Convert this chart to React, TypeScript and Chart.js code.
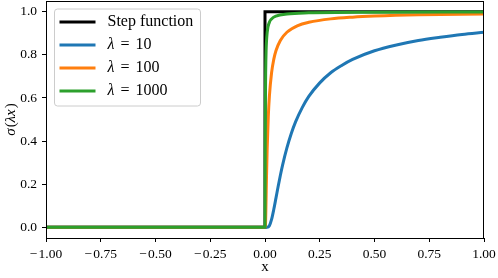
import React, { useEffect, useRef } from "react";
import { Chart, registerables } from "chart.js";

Chart.register(...registerables);

// ---- data ----
const X_TICKS = [-1, -0.75, -0.5, -0.25, 0, 0.25, 0.5, 0.75, 1];
const Y_TICKS = [0, 0.2, 0.4, 0.6, 0.8, 1.0];

const STEP_X = [-1, 0, 0, 1];
const STEP_Y = [0, 0, 1, 1];

const L10_X = [-1, 0, 0.01, 0.02, 0.03, 0.04, 0.05, 0.06, 0.07, 0.08, 0.1, 0.12, 0.14, 0.17, 0.2, 0.25, 0.3, 0.35, 0.4, 0.5, 0.6, 0.7, 0.8, 0.9, 1.0];
const L10_Y = [0, 0, 0.0, 0.007, 0.036, 0.082, 0.135, 0.189, 0.24, 0.287, 0.368, 0.435, 0.49, 0.555, 0.607, 0.67, 0.717, 0.751, 0.779, 0.819, 0.846, 0.867, 0.882, 0.895, 0.905];

const L100_X = [-1, 0, 0.002, 0.003, 0.004, 0.005, 0.007, 0.01, 0.015, 0.02, 0.03, 0.04, 0.05, 0.07, 0.1, 0.15, 0.2, 0.3, 0.4, 0.5, 0.7, 1.0];
const L100_Y = [0, 0, 0.007, 0.036, 0.082, 0.135, 0.24, 0.368, 0.513, 0.607, 0.717, 0.779, 0.819, 0.867, 0.905, 0.936, 0.951, 0.967, 0.975, 0.98, 0.986, 0.99];

const L1000_X = [-1, 0, 0.0005, 0.001, 0.002, 0.003, 0.005, 0.01, 0.02, 0.03, 0.05, 0.1, 0.2, 0.5, 1.0];
const L1000_Y = [0, 0, 0.135, 0.368, 0.607, 0.717, 0.819, 0.905, 0.951, 0.967, 0.98, 0.99, 0.995, 0.998, 0.999];

const LABELS = ["Step function", "λ = 10", "λ = 100", "λ = 1000"];
const LAMBDAS = ["10", "100", "1000"];
const COLORS = ["#000000", "#1f77b4", "#ff7f0e", "#2ca02c"];

const SERIF = "'Liberation Serif', 'Times New Roman', serif";

const pts = (xs: number[], ys: number[]) => xs.map((x, i) => ({ x, y: ys[i] }));
const fmt = (v: number, d: number) => (v < 0 ? "\u2212\u200A" : "") + Math.abs(v).toFixed(d);

type Piece = [string, boolean, number?];

// draws a run of [text, italic, extraGapAfter] pieces starting at x
function drawPieces(ctx: CanvasRenderingContext2D, pieces: Piece[], size: number, x: number, y: number) {
  let cx = x;
  for (const [t, it, g] of pieces) {
    ctx.font = `${it ? "italic " : ""}${size}px ${SERIF}`;
    ctx.fillText(t, cx, y);
    cx += ctx.measureText(t).width + (g || 0);
  }
}
function measurePieces(ctx: CanvasRenderingContext2D, pieces: Piece[], size: number) {
  let w = 0;
  for (const [t, it, g] of pieces) {
    ctx.font = `${it ? "italic " : ""}${size}px ${SERIF}`;
    w += ctx.measureText(t).width + (g || 0);
  }
  return w;
}

const decorPlugin = {
  id: "decor",
  afterDraw(chart: any) {
    const { ctx, chartArea } = chart;
    const { left, right, top, bottom } = chartArea;
    ctx.save();
    // frame
    ctx.strokeStyle = "#000";
    ctx.lineWidth = 1;
    ctx.strokeRect(Math.round(left) + 0.5, Math.round(top) + 0.5, Math.round(right - left) - 1, Math.round(bottom - top));

    // legend
    const lx = left + 8.5, ly = top + 8, lw = 146, lh = 97;
    ctx.beginPath();
    (ctx as any).roundRect(lx, ly, lw, lh, 3);
    ctx.fillStyle = "rgba(255,255,255,0.8)";
    ctx.fill();
    ctx.strokeStyle = "#cccccc";
    ctx.stroke();
    const rows: Piece[][] = [
      [[LABELS[0], false]],
      ...LAMBDAS.map((l) => [["λ", true, 6], ["=", false, 6], [l, false]] as Piece[]),
    ];
    ctx.textBaseline = "middle";
    ctx.textAlign = "left";
    rows.forEach((r, i) => {
      const y = ly + 13 + i * 23;
      ctx.strokeStyle = COLORS[i];
      ctx.lineWidth = 3;
      ctx.beginPath();
      ctx.moveTo(lx + 5, y);
      ctx.lineTo(lx + 41, y);
      ctx.stroke();
      ctx.fillStyle = "#000";
      drawPieces(ctx, r, 16, lx + 53, y);
    });

    // x-axis title
    ctx.fillStyle = "#000";
    ctx.font = `15px ${SERIF}`;
    ctx.textAlign = "center";
    ctx.fillText("x", (left + right) / 2, 267);

    // y-axis title
    const yl: Piece[] = [["σ", true, 1], ["(", false], ["λ", true], ["x", true, 1], [")", false]];
    ctx.translate(11, (top + bottom) / 2);
    ctx.rotate(-Math.PI / 2);
    ctx.textAlign = "left";
    const w = measurePieces(ctx, yl, 15);
    drawPieces(ctx, yl, 15, -w / 2, 0);
    ctx.restore();
  },
};

export default function App() {
  const ref = useRef<HTMLCanvasElement | null>(null);
  useEffect(() => {
    document.body.style.margin = "0";
    const series = [
      pts(STEP_X, STEP_Y),
      pts(L10_X, L10_Y),
      pts(L100_X, L100_Y),
      pts(L1000_X, L1000_Y),
    ];
    const chart = new Chart(ref.current as HTMLCanvasElement, {
      type: "scatter",
      data: {
        datasets: series.map((d, i) => ({
          label: LABELS[i],
          data: d,
          showLine: true,
          borderColor: COLORS[i],
          backgroundColor: COLORS[i],
          borderWidth: 3,
          pointRadius: 0,
          pointHoverRadius: 0,
          tension: 0,
          cubicInterpolationMode: i === 0 ? "default" : "monotone",
          borderJoinStyle: i === 0 ? "miter" : "round",
          order: 4 - i,
        })) as any,
      },
      plugins: [decorPlugin],
      options: {
        animation: false,
        responsive: true,
        maintainAspectRatio: false,
        layout: { padding: { left: 0, right: 14, top: 1, bottom: 0 } },
        plugins: { legend: { display: false }, tooltip: { enabled: false } },
        scales: {
          x: {
            type: "linear",
            min: -1,
            max: 1,
            afterBuildTicks: (s: any) => { s.ticks = X_TICKS.map((v) => ({ value: v })); },
            afterFit: (s: any) => { s.height = 40; s.paddingLeft = 0; s.paddingRight = 0; },
            ticks: {
              autoSkip: false,
              maxRotation: 0,
              color: "#000",
              padding: 4,
              font: { family: SERIF, size: 13.5 },
              callback: (v: any) => fmt(Number(v), 2),
            },
            grid: { display: true, drawOnChartArea: false, drawTicks: true, tickLength: 4, color: "#000", lineWidth: 1 },
            border: { display: false },
          },
          y: {
            type: "linear",
            min: -0.05,
            max: 1.05,
            afterBuildTicks: (s: any) => { s.ticks = Y_TICKS.map((v) => ({ value: v })); },
            afterFit: (s: any) => { s.width = 46; s.paddingTop = 0; s.paddingBottom = 0; },
            ticks: {
              autoSkip: false,
              color: "#000",
              padding: 5,
              font: { family: SERIF, size: 13.5 },
              callback: (v: any) => fmt(Number(v), 1),
            },
            grid: { display: true, drawOnChartArea: false, drawTicks: true, tickLength: 4, color: "#000", lineWidth: 1 },
            border: { display: false },
          },
        },
      },
    });
    return () => chart.destroy();
  }, []);
  return (
    <div style={{ width: 498, height: 278, position: "relative" }}>
      <canvas ref={ref} />
    </div>
  );
}
